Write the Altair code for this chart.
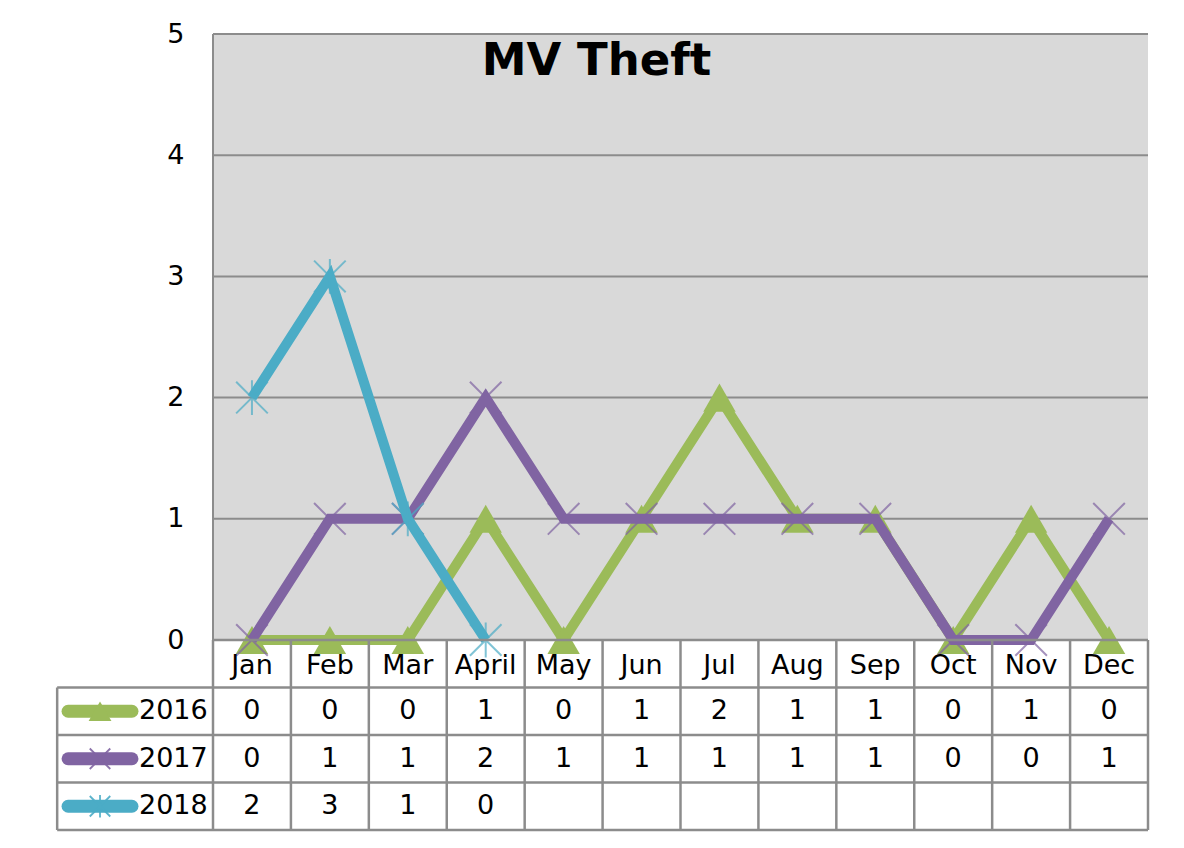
import altair as alt
import pandas as pd

# ---- data ----
months = ["Jan", "Feb", "Mar", "April", "May", "Jun", "Jul", "Aug", "Sep", "Oct", "Nov", "Dec"]
years = ["2016", "2017", "2018"]
v2016 = [0, 0, 0, 1, 0, 1, 2, 1, 1, 0, 1, 0]
v2017 = [0, 1, 1, 2, 1, 1, 1, 1, 1, 0, 0, 1]
v2018 = [2, 3, 1, 0]
y_ticks = [0, 1, 2, 3, 4, 5]

colors = {"2016": "#9BBB59", "2017": "#8064A2", "2018": "#4BACC6"}
series_vals = {"2016": v2016, "2017": v2017, "2018": v2018}

FONT = "DejaVu Sans"
GRID = "#8c8c8c"
TXT = 27
NM = len(months)
NR = len(years) + 1  # header row + one row per year

PLOT_H = 606
TABLE_H = 190
YMAX = max(y_ticks)
ROW_H = TABLE_H / NR / (PLOT_H / YMAX)   # table row height in value units
YMIN = -ROW_H * NR


def row_y(k):
    """y (value units) of the boundary k rows below the plot bottom."""
    return -ROW_H * k


X_PATH = "M-1,-1L1,1M-1,1L1,-1"
AST_PATH = "M-1,-1L1,1M-1,1L1,-1M0,-1.1L0,1.1"
markers = {
    "2016": dict(shape="triangle-up", filled=True, size=1050, legend_size=520),
    "2017": dict(shape=X_PATH, filled=False, size=1000, legend_size=420),
    "2018": dict(shape=AST_PATH, filled=False, size=1000, legend_size=420),
}

rows = []
for yr in years:
    for i, v in enumerate(series_vals[yr]):
        rows.append({"year": yr, "month": months[i], "pos": i + 0.5, "value": v,
                     "row": row_y(years.index(yr) + 1.5), "label": str(v)})
df = pd.DataFrame(rows)

x_scale = alt.Scale(domain=[0, NM], nice=False, zero=False)
y_scale = alt.Scale(domain=[YMIN, YMAX], nice=False, zero=False)

one = pd.DataFrame({"k": [0]})

# ---- upper plot ----
bg = alt.Chart(one).mark_rect(color="#d9d9d9").encode(
    x=alt.datum(0, scale=x_scale, axis=None),
    x2=alt.datum(NM),
    y=alt.datum(0, scale=y_scale,
                axis=alt.Axis(values=y_ticks, format="d", labelFontSize=TXT, labelFont=FONT,
                              labelColor="black", labelPadding=29, ticks=False, domain=False,
                              grid=False, title=None)),
    y2=alt.datum(YMAX),
)

left_border = alt.Chart(one).mark_rule(color=GRID, strokeWidth=2).encode(
    x=alt.datum(0), y=alt.datum(0), y2=alt.datum(YMAX))

grid_df = pd.DataFrame({"v": y_ticks[1:]})
grid = alt.Chart(grid_df).mark_rule(color=GRID, strokeWidth=2).encode(
    x=alt.datum(0), x2=alt.datum(NM), y=alt.Y("v:Q"))

layers = [bg, left_border, grid]
for yr in years:
    d = df[df.year == yr]
    m = markers[yr]
    line = alt.Chart(d).mark_line(color=colors[yr], strokeWidth=10, strokeJoin="miter").encode(
        x=alt.X("pos:Q"), y=alt.Y("value:Q"))
    if m["filled"]:
        pt = alt.Chart(d).mark_point(shape=m["shape"], filled=True, size=m["size"],
                                     color=colors[yr], opacity=1)
    else:
        pt = alt.Chart(d).mark_point(shape=m["shape"], filled=False, size=m["size"],
                                     stroke=colors[yr], strokeWidth=2, opacity=0.7)
    pt = pt.encode(x=alt.X("pos:Q"), y=alt.Y("value:Q"))
    layers += [line, pt]

# ---- data table ----
h_df = pd.DataFrame([{"y": row_y(0), "x0": 0, "x1": NM}] +
                    [{"y": row_y(k), "x0": -2, "x1": NM} for k in range(1, NR + 1)])
v_df = pd.DataFrame([{"x": k, "y0": row_y(0), "y1": row_y(NR)} for k in range(0, NM + 1)] +
                    [{"x": -2, "y0": row_y(1), "y1": row_y(NR)}])

hlines = alt.Chart(h_df).mark_rule(color=GRID, strokeWidth=2.5).encode(
    x=alt.X("x0:Q"), x2="x1:Q", y=alt.Y("y:Q"))
vlines = alt.Chart(v_df).mark_rule(color=GRID, strokeWidth=2.5).encode(
    x=alt.X("x:Q"), y=alt.Y("y0:Q"), y2="y1:Q")

month_df = pd.DataFrame({"month": months, "pos": [i + 0.5 for i in range(NM)],
                         "row": [row_y(0.55)] * NM})
month_txt = alt.Chart(month_df).mark_text(font=FONT, fontSize=TXT, color="black", baseline="middle").encode(
    x=alt.X("pos:Q"), y=alt.Y("row:Q"), text="month:N")

cell_txt = alt.Chart(df).mark_text(font=FONT, fontSize=TXT, color="black", baseline="middle").encode(
    x=alt.X("pos:Q"), y=alt.Y("row:Q"), text="label:N")

leg_df = pd.DataFrame({"year": years, "row": [row_y(i + 1.5) for i in range(len(years))],
                       "lx0": [-1.86] * len(years), "lx1": [-1.04] * len(years),
                       "mx": [-1.45] * len(years), "tx": [-0.95] * len(years)})
leg_layers = []
for yr in years:
    d = leg_df[leg_df.year == yr]
    m = markers[yr]
    leg_layers.append(alt.Chart(d).mark_rule(color=colors[yr], strokeWidth=13, strokeCap="round").encode(
        x=alt.X("lx0:Q"), x2="lx1:Q", y=alt.Y("row:Q")))
    if m["filled"]:
        lp = alt.Chart(d).mark_point(shape=m["shape"], filled=True, size=m["legend_size"],
                                     color=colors[yr], opacity=1)
    else:
        lp = alt.Chart(d).mark_point(shape=m["shape"], filled=False, size=m["legend_size"],
                                     stroke=colors[yr], strokeWidth=1.8, opacity=0.9)
    leg_layers.append(lp.encode(x=alt.X("mx:Q"), y=alt.Y("row:Q")))
leg_txt = alt.Chart(leg_df).mark_text(font=FONT, fontSize=TXT, color="black", align="left",
                                      baseline="middle").encode(
    x=alt.X("tx:Q"), y=alt.Y("row:Q"), text="year:N")

layers += [hlines, vlines, month_txt, cell_txt] + leg_layers + [leg_txt]

chart = alt.layer(*layers).properties(
    width=935,
    height=PLOT_H + TABLE_H,
    autosize=alt.AutoSizeParams(type="none"),
    padding={"left": 205, "top": 26, "right": 28, "bottom": 10},
    title=alt.TitleParams("MV Theft", font=FONT, fontSize=45, fontWeight="bold", color="black",
                          anchor="middle", frame="group", baseline="top", offset=0, dx=-84, dy=64),
    background="white",
).configure_view(stroke=None)

chart.save("out.html", embed_options={"renderer": "svg", "actions": False})
